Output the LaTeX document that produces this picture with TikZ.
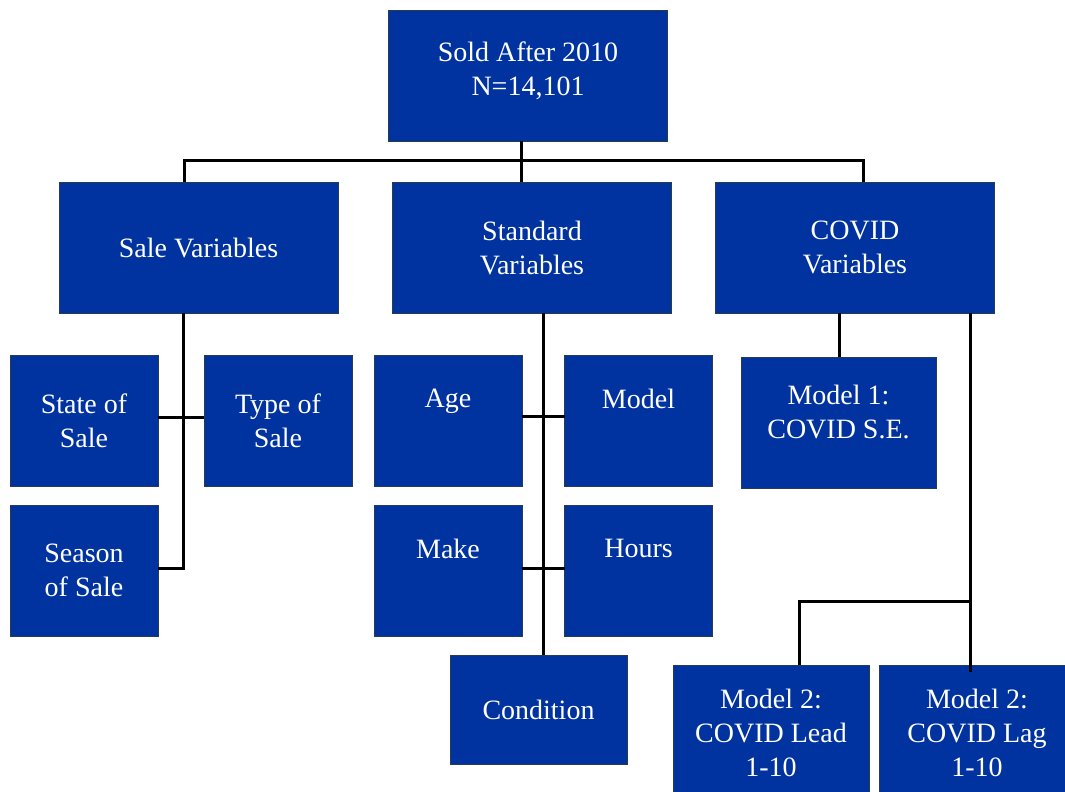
\documentclass[tikz,border=0pt]{standalone}
\usepackage{fontspec}
\setmainfont{Liberation Serif}
\definecolor{boxblue}{RGB}{0,51,160}
\definecolor{boxedge}{RGB}{40,60,80}
\begin{document}
\begin{tikzpicture}[x=1pt,y=-1pt,
  box/.style={rectangle, fill=boxblue, draw=boxedge, line width=0.8pt, text=white,
    align=center, font=\fontsize{28}{34}\selectfont, inner sep=0pt, outer sep=0pt,
    minimum height=131pt},
  wide/.style={box, minimum width=279pt},
  small/.style={box, minimum width=148pt},
  conn/.style={draw=black, line width=3pt}]
\path[use as bounding box, clip] (0,0) rectangle (1065,792);

% boxes
\node[wide, text depth=14pt] (top) at (528,75.5) {Sold After 2010\\N=14,101};
\node[wide] (sale) at (198.5,247.5) {Sale Variables};
\node[wide] (std) at (532,247.5) {Standard\\Variables};
\node[wide] (covid) at (855,247.5) {COVID\\Variables};

\node[small] (state) at (84,420.5) {State of\\Sale};
\node[small] (type) at (278,420.5) {Type of\\Sale};
\node[small] (season) at (84,570.5) {Season\\of Sale};

\node[small] (age) at (448,420.5) {Age\\\strut};
\node[small] (model) at (638.5,420.5) {Model\\\strut};
\node[small] (make) at (448,570.5) {Make\\\strut};
\node[small] (hours) at (638.5,570.5) {Hours\\\strut};
\node[box, minimum width=177pt, minimum height=109pt] (cond) at (538.5,709.5) {Condition};

\node[box, minimum width=195pt, text depth=22pt] (m1) at (838.5,422.5) {Model 1:\\COVID S.E.};
\node[box, minimum width=196pt, minimum height=136pt] (lead) at (771,733) {Model 2:\\COVID Lead\\1-10};
\node[box, minimum width=196pt, minimum height=136pt] (lag) at (977,733) {Model 2:\\COVID Lag\\1-10};

% connectors: top level
\coordinate (bL) at (184,160);
\coordinate (bM) at (521,160);
\coordinate (bR) at (863,160);
\draw[conn] (bM |- top.south) -- (bM);
\draw[conn] (bL |- sale.north) -- (bL) -- (bR) -- (bR |- covid.north);
\draw[conn] (bM) -- (bM |- std.north);

% sale variables
\coordinate (s1) at (183,568);
\draw[conn] (s1 |- sale.south) -- (s1) -- (s1 -| season.east);
\draw[conn] ([yshift=3pt]state.east) -- ([yshift=3pt]type.west);

% standard variables
\coordinate (c1) at (543,0);
\draw[conn] (c1 |- std.south) -- (c1 |- cond.north);
\draw[conn] ([yshift=4pt]age.east) -- ([yshift=4pt]model.west);
\draw[conn] ([yshift=2pt]make.east) -- ([yshift=2pt]hours.west);

% covid variables
\coordinate (k0) at (839,0);
\draw[conn] (k0 |- covid.south) -- (k0 |- m1.north);
\coordinate (k1) at (970,601);
\coordinate (k2) at (799,601);
\draw[conn] (k1 |- covid.south) -- ([yshift=-7pt]k1 |- lag.north);
\draw[conn] (k1) -- (k2) -- (k2 |- lead.north);
\end{tikzpicture}
\end{document}
